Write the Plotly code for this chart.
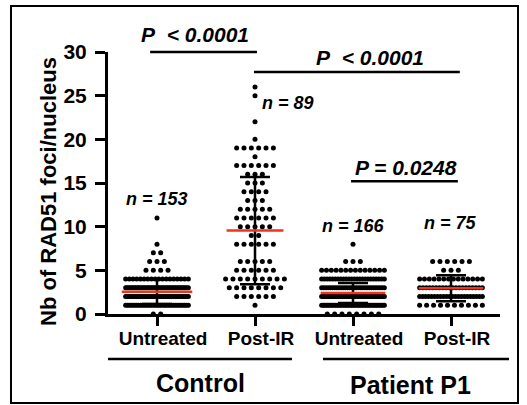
import plotly.graph_objects as go

# ---------------- data ----------------
categories = ["Untreated", "Post-IR", "Untreated", "Post-IR"]
groups = ["Control", "Patient P1"]

ctrl_untr_values = [0, 1, 2, 3, 4, 5, 6, 7, 8, 11]
ctrl_untr_counts = [2, 35, 42, 45, 18, 4, 3, 2, 1, 1]

ctrl_ir_values = [1, 2, 3, 4, 5, 6, 8, 9, 10, 11, 12, 13, 14, 15, 16, 17, 18, 19, 20, 22, 25, 26]
ctrl_ir_counts = [1, 6, 8, 9, 6, 5, 6, 2, 5, 6, 5, 3, 4, 3, 3, 6, 1, 6, 1, 1, 1, 1]

pat_untr_values = [0, 1, 2, 3, 4, 5, 6, 8]
pat_untr_counts = [8, 41, 45, 30, 24, 14, 3, 1]

pat_ir_values = [1, 2, 3, 4, 5, 6]
pat_ir_counts = [10, 22, 20, 14, 3, 6]

means = [2.55, 9.55, 2.40, 2.95]
sds = [1.40, 6.15, 1.15, 1.50]

n_labels = ["n = 153", "n = 89", "n = 166", "n = 75"]
p_labels = ["P\u00a0\u00a0< 0.0001", "P\u00a0\u00a0< 0.0001", "P = 0.0248"]

y_ticks = [0, 5, 10, 15, 20, 25, 30]

# ---------------- layout constants ----------------
FONT = "Liberation Sans, Arial, sans-serif"
L, R_PX, T, B_PX = 108, 500, 52, 314
WIDTH, HEIGHT = 527, 405
XMIN, XMAX = -0.5, 3.5
YMIN, YMAX = 0, 30
SPACING = 0.075     # natural spacing between dots in a row (category units)
HALF_W = 0.32       # max half-width of a row
MEAN_HW = [0.36, 0.29, 0.33, 0.33]

def px_x(px):
    return (px - L) / (R_PX - L)

def px_y(py):
    return (B_PX - py) / (B_PX - T)

def dx(x):
    return (x - XMIN) / (XMAX - XMIN)

def dy(y):
    return (y - YMIN) / (YMAX - YMIN)

def swarm(center, values, counts):
    xs, ys = [], []
    for v, c in zip(values, counts):
        sp = SPACING
        if c > 1 and (c - 1) * sp / 2 > HALF_W:
            sp = 2 * HALF_W / (c - 1)
        for i in range(c):
            xs.append(center + (i - (c - 1) / 2) * sp)
            ys.append(v)
    return xs, ys

fig = go.Figure()

all_groups = [
    (ctrl_untr_values, ctrl_untr_counts),
    (ctrl_ir_values, ctrl_ir_counts),
    (pat_untr_values, pat_untr_counts),
    (pat_ir_values, pat_ir_counts),
]
for idx, (vals, cnts) in enumerate(all_groups):
    xs, ys = swarm(idx, vals, cnts)
    fig.add_trace(go.Scatter(
        x=xs, y=ys, mode="markers",
        marker=dict(color="black", size=5, line=dict(width=0)),
        cliponaxis=False, hoverinfo="skip", showlegend=False,
    ))

# SD error bars
fig.add_trace(go.Scatter(
    x=list(range(4)), y=means, mode="markers",
    marker=dict(size=1, color="rgba(0,0,0,0)"),
    error_y=dict(type="data", array=sds, visible=True, color="black",
                 thickness=2.5, width=15),
    cliponaxis=False, hoverinfo="skip", showlegend=False,
))

# mean lines
for idx, m in enumerate(means):
    fig.add_trace(go.Scatter(
        x=[idx - MEAN_HW[idx], idx + MEAN_HW[idx]], y=[m, m], mode="lines",
        line=dict(color="#f0321e", width=2.5),
        hoverinfo="skip", showlegend=False,
    ))

shapes = []
annotations = []

# significance brackets
brackets = [
    (-0.07, 1.02, 30.0, 0.39, 32.0),
    (0.99, 3.09, 27.7, 2.17, 29.4),
    (1.98, 3.07, 15.2, 2.54, 16.8),
]
for (x0, x1, yl, xt, yt), lab in zip(brackets, p_labels):
    shapes.append(dict(type="line", xref="paper", yref="paper",
                       x0=dx(x0), x1=dx(x1), y0=dy(yl), y1=dy(yl),
                       line=dict(color="black", width=2.5)))
    annotations.append(dict(xref="paper", yref="paper", x=dx(xt), y=dy(yt),
                            text="<b><i>" + lab + "</i></b>",
                            showarrow=False, xanchor="center", yanchor="middle",
                            font=dict(family=FONT, size=21, color="black")))

# n labels
n_pos = [(0.0, 13.2), (1.34, 24.2), (2.0, 10.1), (2.99, 10.4)]
for (xn, yn), lab in zip(n_pos, n_labels):
    annotations.append(dict(xref="paper", yref="paper", x=dx(xn), y=dy(yn),
                            text="<b><i>" + lab + "</i></b>",
                            showarrow=False, xanchor="center", yanchor="middle",
                            font=dict(family=FONT, size=18, color="black")))

# group underlines and labels
group_lines = [(108, 292), (323, 509)]
group_text = [(200, 383), (410, 385)]
for (a, b), (gx, gy), g in zip(group_lines, group_text, groups):
    shapes.append(dict(type="line", xref="paper", yref="paper",
                       x0=px_x(a), x1=px_x(b), y0=px_y(359), y1=px_y(359),
                       line=dict(color="black", width=2.5)))
    annotations.append(dict(xref="paper", yref="paper", x=px_x(gx), y=px_y(gy),
                            text="<b>" + g + "</b>", showarrow=False,
                            xanchor="center", yanchor="middle",
                            font=dict(family=FONT, size=25, color="black")))

# y-axis title
annotations.append(dict(xref="paper", yref="paper", x=px_x(48), y=px_y(192),
                        text="<b>Nb of RAD51 foci/nucleus</b>", textangle=-90,
                        showarrow=False, xanchor="center", yanchor="middle",
                        font=dict(family=FONT, size=22, color="black")))

# outer frame
shapes.append(dict(type="rect", xref="paper", yref="paper",
                   x0=px_x(11), x1=px_x(518), y0=px_y(403), y1=px_y(6),
                   line=dict(color="black", width=2), layer="below"))

fig.update_layout(
    width=WIDTH, height=HEIGHT,
    margin=dict(l=L, r=WIDTH - R_PX, t=T, b=HEIGHT - B_PX),
    paper_bgcolor="white", plot_bgcolor="white",
    showlegend=False,
    shapes=shapes, annotations=annotations,
    font=dict(family=FONT, color="black"),
    xaxis=dict(
        range=[XMIN, XMAX], showgrid=False, zeroline=False,
        showline=True, linecolor="black", linewidth=3,
        tickmode="array", tickvals=list(range(4)),
        ticktext=["<b>" + c + "</b>" for c in categories],
        ticks="outside", ticklen=9, tickwidth=3, tickcolor="black",
        tickfont=dict(family=FONT, size=19, color="black"),
        ticklabelshift=6, ticklabelstandoff=-4,
    ),
    yaxis=dict(
        range=[YMIN, YMAX], showgrid=False, zeroline=False,
        showline=True, linecolor="black", linewidth=3,
        tickmode="array", tickvals=y_ticks,
        ticktext=["<b>" + str(t) + "</b>" for t in y_ticks],
        ticks="outside", ticklen=10, tickwidth=3, tickcolor="black",
        tickfont=dict(family=FONT, size=21, color="black"),
        ticklabelstandoff=4,
    ),
)

fig.write_html(
    "out.html",
    config={"displayModeBar": False},
    post_script="document.body.style.margin='0px';document.body.style.overflow='hidden';",
)
